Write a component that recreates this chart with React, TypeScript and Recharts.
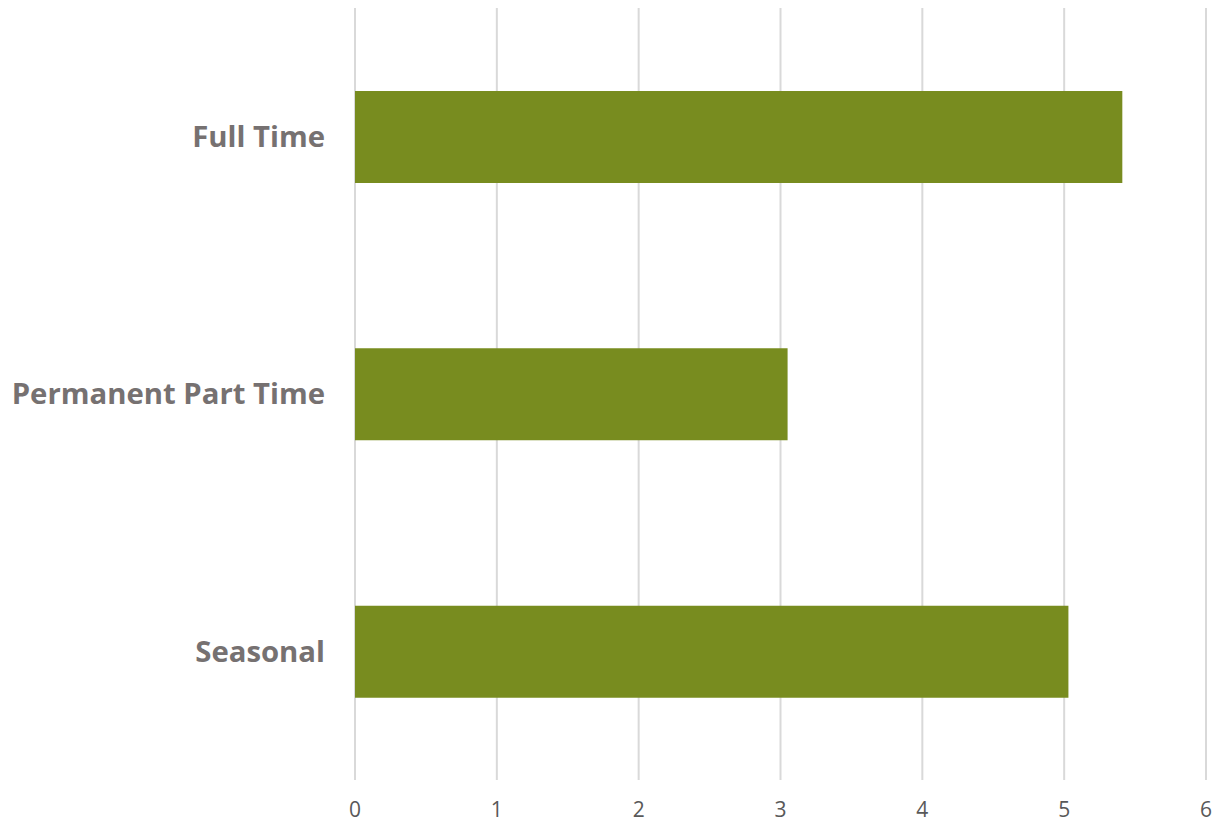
import React from "react";
import { BarChart, Bar, XAxis, YAxis, CartesianGrid } from "recharts";

const categories = ["Full Time", "Permanent Part Time", "Seasonal"];
const values = [5.41, 3.05, 5.03];
const xTicks = [0, 1, 2, 3, 4, 5, 6];

const data = categories.map((name, i) => ({ name, value: values[i] }));

export default function App() {
  return (
    <div style={{ position: "absolute", left: 0, top: 0, width: 1213, height: 825, background: "#fff" }}>
      <BarChart
        width={1213}
        height={825}
        data={data}
        layout="vertical"
        margin={{ top: 8, right: 7, bottom: 0, left: 0 }}
      >
        <CartesianGrid horizontal={false} vertical stroke="#d9d9d9" strokeWidth={2} />
        <XAxis
          type="number"
          domain={[0, 6]}
          ticks={xTicks}
          axisLine={false}
          tickLine={false}
          tickSize={0}
          tickMargin={22}
          height={45}
          tick={{ fill: "#595959", fontSize: 21, fontFamily: "Open Sans" }}
        />
        <YAxis
          type="category"
          dataKey="name"
          width={355}
          axisLine={false}
          tickLine={false}
          tickSize={0}
          tickMargin={30}
          tick={{ fill: "#767171", fontSize: 29.3, fontWeight: 700, fontFamily: "Open Sans" }}
        />
        <Bar dataKey="value" fill="#788c1f" barSize={92} isAnimationActive={false} />
      </BarChart>
    </div>
  );
}
